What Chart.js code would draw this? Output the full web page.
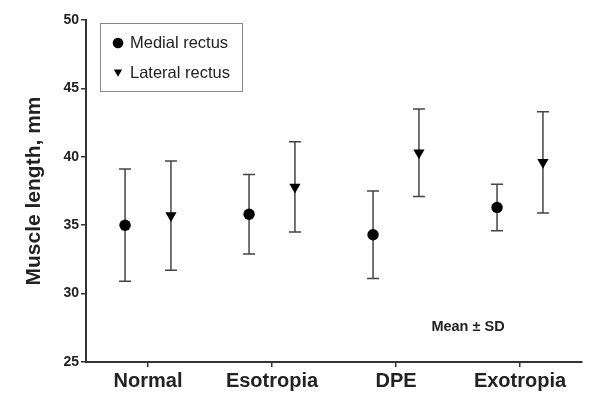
<!DOCTYPE html>
<html><head><meta charset="utf-8">
<script src="https://cdn.jsdelivr.net/npm/chart.js@4"></script>
<style>html,body{margin:0;padding:0;background:#fff}#wrap{width:600px;height:402px}</style>
</head><body><div id="wrap"><canvas id="c" width="600" height="402"></canvas></div>
<script>
const categories = ['Normal', 'Esotropia', 'DPE', 'Exotropia'];
const medialMean = [35.0, 35.8, 34.3, 36.3];
const medialSD = [4.1, 2.9, 3.2, 1.7];
const lateralMean = [35.7, 37.8, 40.3, 39.6];
const lateralSD = [4.0, 3.3, 3.2, 3.7];
const seriesLabels = ['Medial rectus', 'Lateral rectus'];
const noteText = 'Mean \u00b1 SD';

const OFFSET = 0.185;
const FONT = "'Liberation Sans', Arial, sans-serif";
const AXIS = '#333';
const TEXT = '#222';

const errorBars = {
  id: 'errorBars',
  beforeDatasetsDraw(chart) {
    const { ctx, scales: { x, y } } = chart;
    ctx.save();
    ctx.strokeStyle = '#444';
    ctx.lineWidth = 1.5;
    chart.data.datasets.forEach(ds => {
      ds.data.forEach((p, i) => {
        const px = x.getPixelForValue(p.x);
        const top = y.getPixelForValue(p.y + ds.sd[i]);
        const bot = y.getPixelForValue(p.y - ds.sd[i]);
        ctx.beginPath();
        ctx.moveTo(px, top); ctx.lineTo(px, bot);
        ctx.moveTo(px - 6, top); ctx.lineTo(px + 6, top);
        ctx.moveTo(px - 6, bot); ctx.lineTo(px + 6, bot);
        ctx.stroke();
      });
    });
    ctx.restore();
  }
};

const legendBox = {
  id: 'legendBox',
  afterDraw(chart) {
    const ctx = chart.ctx;
    ctx.save();
    ctx.strokeStyle = '#888';
    ctx.lineWidth = 1;
    ctx.strokeRect(100.5, 23.5, 142, 68);
    const rows = [43, 72];
    const radii = [5.3, 4.8];
    chart.data.datasets.forEach((ds, i) => {
      ctx.fillStyle = '#000';
      ctx.strokeStyle = '#000';
      Chart.helpers.drawPoint(ctx, { pointStyle: ds.pointStyle, radius: radii[i], rotation: ds.rotation || 0, borderWidth: 0 }, 118, rows[i]);
      ctx.fillStyle = TEXT;
      ctx.font = '16.5px ' + FONT;
      ctx.textBaseline = 'middle';
      ctx.textAlign = 'left';
      ctx.fillText(ds.label, 130, [43, 73][i]);
    });
    ctx.font = 'bold 14.5px ' + FONT;
    ctx.textAlign = 'center';
    ctx.textBaseline = 'middle';
    ctx.fillStyle = TEXT;
    ctx.fillText(noteText, 468, 327);
    ctx.restore();
  }
};

new Chart(document.getElementById('c'), {
  type: 'scatter',
  data: {
    datasets: [
      {
        label: seriesLabels[0],
        data: medialMean.map((v, i) => ({ x: i + 1 - OFFSET, y: v })),
        sd: medialSD,
        pointStyle: 'circle', pointRadius: 5.7, pointHoverRadius: 5.7,
        backgroundColor: '#000', borderColor: '#000', borderWidth: 0
      },
      {
        label: seriesLabels[1],
        data: lateralMean.map((v, i) => ({ x: i + 1 + OFFSET, y: v })),
        sd: lateralSD,
        pointStyle: 'triangle', rotation: 180, pointRadius: 6.5, pointHoverRadius: 6.5,
        backgroundColor: '#000', borderColor: '#000', borderWidth: 0
      }
    ]
  },
  options: {
    responsive: false, animation: false, events: [],
    layout: { padding: { left: 0, right: 18, top: 20, bottom: 0 } },
    plugins: { legend: { display: false }, tooltip: { enabled: false } },
    scales: {
      x: {
        type: 'linear', min: 0.5, max: 4.5,
        afterBuildTicks: s => { s.ticks = categories.map((c, i) => ({ value: i + 1 })); },
        ticks: {
          callback: v => categories[Math.round(v) - 1],
          font: { family: FONT, size: 20, weight: 'bold' }, color: TEXT,
          padding: 2, autoSkip: false, maxRotation: 0
        },
        grid: { drawOnChartArea: false, drawTicks: true, tickLength: 5, color: AXIS, lineWidth: 1.5 },
        border: { display: true, color: AXIS, width: 2 },
        afterFit: s => { s.height = 40; }
      },
      y: {
        min: 25, max: 50,
        ticks: { stepSize: 5, font: { family: FONT, size: 14, weight: 'bold' }, color: TEXT, padding: 2 },
        grid: { drawOnChartArea: false, drawTicks: true, tickLength: 5, color: AXIS, lineWidth: 1.5 },
        border: { display: true, color: AXIS, width: 2 },
        title: { display: true, text: 'Muscle length, mm', font: { family: FONT, size: 21, weight: 'bold' }, color: TEXT, padding: { top: 22, bottom: 0 } },
        afterFit: s => { s.width = 86; }
      }
    }
  },
  plugins: [errorBars, legendBox]
});
</script>
</body></html>
